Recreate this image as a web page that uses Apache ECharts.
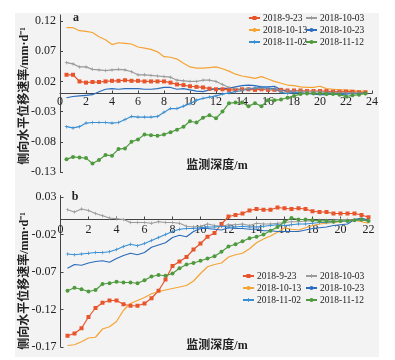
<!DOCTYPE html>
<html><head><meta charset="utf-8">
<script src="https://cdn.jsdelivr.net/npm/echarts@6/dist/echarts.min.js"></script>
<style>html,body{margin:0;padding:0;background:#fff}#c{width:395px;height:360px}</style>
</head><body><div id="c"></div>
<script>
// ---- data ----
const seriesNames = ['2018-9-23','2018-10-03','2018-10-13','2018-10-23','2018-11-02','2018-11-12'];
const depthA = [0.5,1,1.5,2,2.5,3,3.5,4,4.5,5,5.5,6,6.5,7,7.5,8,8.5,9,9.5,10,10.5,11,11.5,12,12.5,13,13.5,14,14.5,15,15.5,16,16.5,17,17.5,18,18.5,19,19.5,20,20.5,21,21.5,22,22.5,23,23.5];
const depthB = [0.5,1,1.5,2,2.5,3,3.5,4,4.5,5,5.5,6,6.5,7,7.5,8,8.5,9,9.5,10,10.5,11,11.5,12,12.5,13,13.5,14,14.5,15,15.5,16,16.5,17,17.5,18,18.5,19,19.5,20,20.5,21,21.5,22];

const a_0923 = [0.031,0.031,0.020,0.018,0.019,0.019,0.020,0.021,0.021,0.022, 0.021,0.021,0.020,0.020,0.020,0.020,0.018,0.015,0.014,0.012, 0.011,0.010,0.008,0.007,0.007,0.006,0.006,0.007,0.007,0.006, 0.007,0.006,0.006,0.006,0.005,0.005,0.005,0.004,0.004,0.004, 0.004,0.003,0.003,0.003,0.003,0.002,0.002];
const a_1003 = [0.051,0.049,0.044,0.044,0.040,0.039,0.038,0.039,0.040,0.039, 0.036,0.031,0.031,0.030,0.029,0.028,0.027,0.022,0.021,0.020, 0.020,0.022,0.022,0.020,0.015,0.010,0.008,0.007,0.008,0.009, 0.008,0.007,0.006,0.005,0.005,0.004,0.004,0.003,0.003,0.003, 0.002,0.002,0.002,0.002,0.001,0.001,0.001];
const a_1013 = [0.109,0.109,0.104,0.103,0.101,0.094,0.089,0.081,0.084,0.083, 0.082,0.077,0.075,0.073,0.069,0.061,0.060,0.057,0.050,0.044, 0.042,0.042,0.043,0.044,0.041,0.037,0.032,0.029,0.027,0.025, 0.028,0.024,0.020,0.017,0.014,0.013,0.011,0.010,0.010,0.012, 0.008,0.007,0.006,0.006,0.005,0.004,0.004];
const a_1023 = [-0.007,-0.005,-0.004,-0.003,-0.002,0.003,0.007,0.008,0.007,0.008, 0.008,0.008,0.007,0.007,0.008,0.010,0.010,0.007,0.008,0.006, 0.004,0.003,0.006,0.008,0.008,0.009,0.011,0.013,0.014,0.013, 0.011,0.011,0.012,0.006,0.003,0.002,0.001,0.000,-0.001,-0.002, -0.002,-0.001,-0.002,-0.001,0.000,0.000,0.001];
const a_1102 = [-0.055,-0.057,-0.055,-0.049,-0.048,-0.048,-0.048,-0.049,-0.048,-0.043, -0.038,-0.039,-0.039,-0.039,-0.038,-0.031,-0.025,-0.025,-0.021,-0.017, -0.011,-0.008,-0.006,-0.004,-0.001,0.001,0.003,0.005,0.007,0.009, 0.010,0.009,0.008,0.002,0.000,0.002,0.001,0.000,0.001,0.000, 0.001,0.000,-0.001,0.000,0.000,0.000,0.000];
const a_1112 = [-0.109,-0.105,-0.106,-0.107,-0.116,-0.110,-0.102,-0.103,-0.092,-0.091, -0.080,-0.076,-0.068,-0.069,-0.070,-0.068,-0.064,-0.060,-0.055,-0.046, -0.048,-0.040,-0.036,-0.041,-0.030,-0.016,-0.015,-0.015,-0.021,-0.016, -0.021,-0.011,-0.011,-0.010,-0.007,-0.004,-0.001,0.000,0.000,0.000, -0.001,-0.001,-0.002,-0.005,-0.003,-0.002,0.000];

const b_0923 = [-0.155,-0.152,-0.145,-0.130,-0.118,-0.111,-0.108,-0.108,-0.113,-0.115, -0.115,-0.112,-0.105,-0.095,-0.080,-0.062,-0.056,-0.050,-0.040,-0.032, -0.023,-0.018,-0.006,0.004,0.006,0.008,0.012,0.014,0.013,0.013, 0.016,0.015,0.014,0.015,0.014,0.011,0.010,0.010,0.008,0.008, 0.008,0.008,0.006,0.003];
const b_1003 = [0.013,0.010,0.014,0.012,0.008,0.005,0.002,0.001,0.000,-0.004, -0.004,-0.004,-0.005,-0.003,-0.004,-0.004,-0.005,-0.009,-0.010,-0.009, -0.006,-0.008,-0.009,-0.007,-0.007,-0.006,-0.008,-0.005,-0.006,-0.006, -0.005,-0.004,-0.003,-0.003,-0.002,-0.002,-0.001,-0.001,-0.001,0.000, 0.000,-0.001,-0.001,-0.002];
const b_1013 = [-0.168,-0.167,-0.163,-0.158,-0.157,-0.146,-0.143,-0.136,-0.121,-0.112, -0.108,-0.104,-0.099,-0.096,-0.094,-0.092,-0.090,-0.088,-0.082,-0.072, -0.063,-0.060,-0.058,-0.050,-0.047,-0.045,-0.039,-0.031,-0.026,-0.022, -0.017,-0.011,-0.013,-0.014,-0.011,-0.008,-0.006,-0.005,-0.004,-0.003, -0.001,-0.001,-0.003,-0.005];
const b_1023 = [-0.065,-0.060,-0.061,-0.058,-0.056,-0.055,-0.057,-0.052,-0.048,-0.045, -0.047,-0.044,-0.037,-0.034,-0.031,-0.024,-0.021,-0.023,-0.016,-0.012, -0.012,-0.013,-0.014,-0.011,-0.012,-0.012,-0.013,-0.013,-0.015,-0.015, -0.016,-0.016,-0.016,-0.016,-0.014,-0.012,-0.011,-0.010,-0.008,-0.007, -0.006,0.000,0.002,-0.001];
const b_1102 = [-0.046,-0.047,-0.046,-0.045,-0.044,-0.044,-0.043,-0.040,-0.036,-0.033, -0.035,-0.032,-0.028,-0.024,-0.020,-0.016,-0.013,-0.012,-0.012,-0.011, -0.010,-0.010,-0.009,-0.010,-0.010,-0.009,-0.010,-0.010,-0.009,-0.008, -0.007,-0.008,-0.007,-0.006,-0.006,-0.005,-0.004,-0.004,-0.003,-0.002, -0.002,-0.001,0.000,-0.001];
const b_1112 = [-0.095,-0.091,-0.093,-0.096,-0.094,-0.086,-0.085,-0.083,-0.084,-0.084, -0.085,-0.081,-0.076,-0.074,-0.075,-0.072,-0.065,-0.060,-0.058,-0.055, -0.052,-0.049,-0.043,-0.036,-0.033,-0.029,-0.025,-0.023,-0.020,-0.015, -0.010,-0.003,0.002,0.000,0.000,-0.001,-0.002,-0.002,-0.003,-0.002, -0.002,-0.001,0.000,-0.002];

const yTicksA = [-0.13,-0.08,-0.03,0.02,0.07,0.12];
const yTicksB = [-0.17,-0.12,-0.07,-0.02,0.03];

const valuesA = [a_0923,a_1003,a_1013,a_1023,a_1102,a_1112];
const valuesB = [b_0923,b_1003,b_1013,b_1023,b_1102,b_1112];

// ---- styles ----
const plusPath = 'path://M4,0H6V4H10V6H6V10H4V6H0V4H4Z';
const styles = [
  {color:'#e8542b', symbol:'rect', symbolSize:4},
  {color:'#9b9b9b', symbol:plusPath, symbolSize:3.5},
  {color:'#f5a333', symbol:'none', symbolSize:0},
  {color:'#2b6cbd', symbol:'none', symbolSize:0},
  {color:'#3a8fd3', symbol:plusPath, symbolSize:3.5},
  {color:'#4f9a3e', symbol:'circle', symbolSize:4}
];
const serif = 'Liberation Serif';
const mixFont = '"Liberation Serif", "Noto Sans CJK SC"';

function mk(idx, depth, vals, g){
  const s = styles[idx];
  return {
    type:'line', name:seriesNames[idx], xAxisIndex:g, yAxisIndex:g,
    data: depth.map((d,i)=>[d, vals[i]]),
    symbol:s.symbol, symbolSize:s.symbolSize, showSymbol:s.symbol!=='none',
    lineStyle:{color:s.color, width:1.2}, itemStyle:{color:s.color},
    animation:false, z:3
  };
}
const series = [];
valuesA.forEach((v,i)=>series.push(mk(i, depthA, v, 0)));
valuesB.forEach((v,i)=>series.push(mk(i, depthB, v, 1)));

function xAx(g, max, offset, margin){
  return {type:'value', gridIndex:g, min:0, max:max, interval:2, position:'bottom', offset:offset,
    axisLine:{onZero:false, lineStyle:{color:'#444', width:1}},
    axisTick:{inside:true, length:3, lineStyle:{color:'#444'}},
    axisLabel:{fontFamily:serif, fontSize:12, color:'#222', margin:margin},
    splitLine:{show:false}};
}
function yAx(g, min, max, ticks){
  return {type:'value', gridIndex:g, min:min, max:max,
    axisLine:{show:true, onZero:false, lineStyle:{color:'#444', width:1}},
    axisTick:{show:true, inside:true, length:3, customValues:ticks, lineStyle:{color:'#444'}},
    axisLabel:{customValues:ticks, fontFamily:serif, fontSize:12, color:'#222', margin:4,
      formatter:v=>v.toFixed(2)},
    splitLine:{show:false}};
}
function legendCol(names, left, top){
  return {data:names, left:left, top:top, orient:'vertical', itemGap:2,
    itemWidth:11, itemHeight:5, padding:0,
    textStyle:{fontFamily:serif, fontSize:9.5, color:'#222', padding:[0,0,0,-2]}};
}
const leftNames = [seriesNames[0],seriesNames[2],seriesNames[4]];
const rightNames = [seriesNames[1],seriesNames[3],seriesNames[5]];

function txt(t, x, y, opts){
  return {type:'text', x:x, y:y, silent:true, z:5,
    style:Object.assign({text:t, fill:'#222', align:'center', verticalAlign:'middle'}, opts||{})};
}
function vtxt(t, x, y, opts){
  const o = txt(t, x, y, opts); o.rotation = Math.PI/2; return o;
}

const chart = echarts.init(document.getElementById('c'), null, {renderer:'canvas'});
chart.setOption({
  animation:false,
  backgroundColor:'#ffffff',
  grid:[
    {left:60, right:23, top:15, height:157},
    {left:60.5, right:26.5, top:195.5, height:151.5}
  ],
  xAxis:[xAx(0,24,-78.5,2), xAx(1,22,-127.5,4)],
  yAxis:[yAx(0,-0.13,0.13,yTicksA), yAx(1,-0.17,0.032,yTicksB)],
  legend:[
    legendCol(leftNames, 248, 13), legendCol(rightNames, 305, 13),
    legendCol(leftNames, 242, 271), legendCol(rightNames, 305, 271)
  ],
  graphic:[
    {type:'rect', shape:{x:15, y:13, width:364, height:344}, style:{fill:'#f3f3f3'}, z:-10, silent:true},
    txt('a', 76, 18, {font:'bold 12px "Liberation Serif"'}),
    txt('b', 75, 197, {font:'bold 12px "Liberation Serif"'}),
    vtxt('侧向水平位移速率/mm·d⁻¹', 25, 96, {font:'bold 12px '+mixFont}),
    vtxt('侧向水平位移速率/mm·d⁻¹', 25, 281, {font:'bold 12px '+mixFont}),
    txt('监测深度/m', 217, 166, {font:'bold 12px '+mixFont}),
    txt('监测深度/m', 217, 346, {font:'bold 12px '+mixFont})
  ],
  series:series
});
</script></body></html>
